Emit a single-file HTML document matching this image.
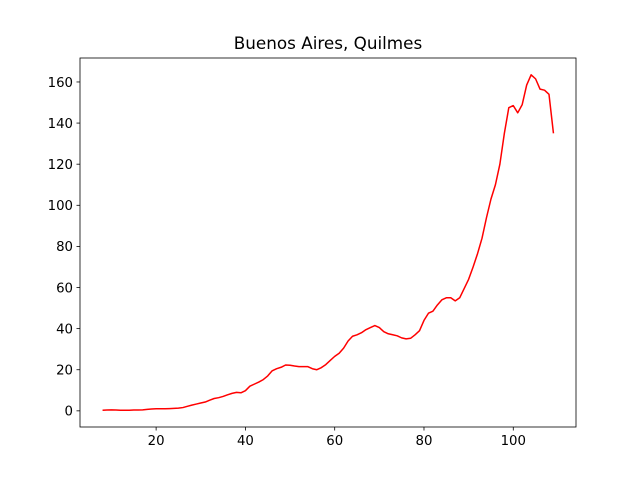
<!DOCTYPE html>
<html><head><meta charset="utf-8">
<style>
body{margin:0;background:#fff;}
svg{display:block;font-family:"DejaVu Sans","Liberation Sans",sans-serif;}
</style></head>
<body>
<svg id="chart" width="640" height="480" viewBox="0 0 640 480"></svg>
<script>
const xStart = 8;
const values = [0.3,0.4,0.5,0.4,0.3,0.3,0.3,0.4,0.4,0.5,
0.7,0.9,1.0,1.0,1.0,1.1,1.2,1.3,
1.6,2.2,2.8,3.3,3.8,4.3,5.2,6,6.4,7.0,7.8,8.5,9,8.8,9.8,12,13,14,15.2,17,19.5,20.5,21.2,22.3,22.2,21.8,21.5,21.5,21.5,20.5,20,21,22.5,24.5,26.5,28,30.5,34,36.3,37,38,39.5,40.5,41.5,40.5,38.5,37.5,37,36.5,35.5,35,35.3,37,39,44,47.5,48.5,51.5,54,55,55,53.5,55,59.5,64,70,76.5,84,94,103,110,120,135,147.5,148.5,145,149,158.5,163.5,161.5,156.5,156,154,135];
const xTicks = [20,40,60,80,100];
const yTicks = [0,20,40,60,80,100,120,140,160];
const title = "Buenos Aires, Quilmes";

const NS="http://www.w3.org/2000/svg";
const svg=document.getElementById('chart');
const L=80,R=576,T=58,B=427;
const xs=values.map((v,i)=>xStart+i);
const xmin=Math.min(...xs),xmax=Math.max(...xs);
const ymin=Math.min(...values),ymax=Math.max(...values);
const xm=(xmax-xmin)*0.05,ym=(ymax-ymin)*0.05;
const X=v=>L+(v-(xmin-xm))/((xmax+xm)-(xmin-xm))*(R-L);
const Y=v=>B-(v-(ymin-ym))/((ymax+ym)-(ymin-ym))*(B-T);
function mk(tag,attrs,parent){const e=document.createElementNS(NS,tag);for(const k in attrs)e.setAttribute(k,attrs[k]);(parent||svg).appendChild(e);return e;}

const t=mk('text',{x:(L+R)/2,y:49,'text-anchor':'middle','font-size':'16.8',fill:'#000'});
t.textContent=title;



const line=mk('polyline',{points:xs.map((x,i)=>X(x).toFixed(2)+','+Y(values[i]).toFixed(2)).join(' '),fill:'none',stroke:'#ff0000','stroke-width':'1.5','stroke-linejoin':'round'});



const frame=mk('rect',{x:L,y:T,width:R-L,height:B-T,fill:'none',stroke:'#000','stroke-width':'0.8'});



xTicks.forEach(v=>{
  const g=mk('g',{});
  
  
  mk('line',{x1:X(v),x2:X(v),y1:B,y2:B+3.5,stroke:'#000','stroke-width':'0.8'},g);
  const tx=mk('text',{x:X(v),y:B+18,'text-anchor':'middle','font-size':'13.3',fill:'#000'},g);
  tx.textContent=v;
});
yTicks.forEach(v=>{
  const g=mk('g',{});
  
  
  mk('line',{x1:L-3.5,x2:L,y1:Y(v),y2:Y(v),stroke:'#000','stroke-width':'0.8'},g);
  const tx=mk('text',{x:L-7,y:Y(v)+4.8,'text-anchor':'end','font-size':'13.3',fill:'#000'},g);
  tx.textContent=v;
});
</script>
</body></html>
